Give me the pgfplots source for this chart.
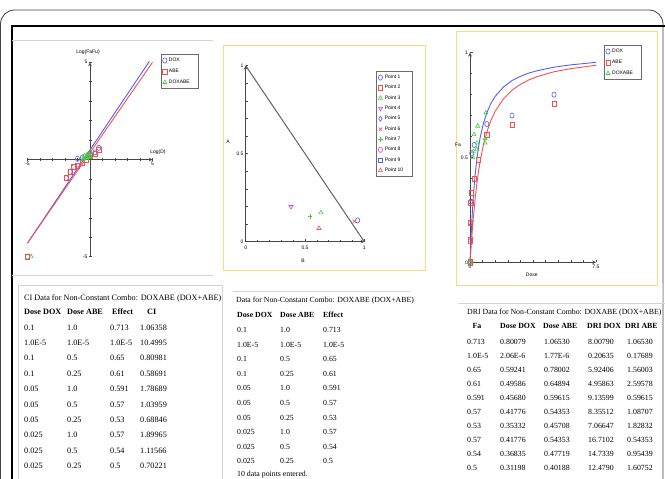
\documentclass[border=0pt]{standalone}
\usepackage{pgfplots}
\pgfplotsset{compat=1.18}
\usepackage{fontspec}
\setmainfont{Liberation Serif}
\setsansfont{Liberation Sans}
\definecolor{cblue}{RGB}{90,90,250}
\definecolor{cred}{RGB}{245,80,80}
\definecolor{cgreen}{RGB}{60,210,60}
\definecolor{cmag}{RGB}{220,60,220}
\definecolor{pyellow}{RGB}{248,218,130}
\definecolor{axgray}{RGB}{70,70,70}
\definecolor{lgray}{RGB}{212,212,212}
\newcommand\tfa{\fontsize{8.2}{10}\selectfont}
\newcommand\tfb{\fontsize{7.8}{10}\selectfont}
\newcommand\tfc{\fontsize{7.85}{10}\selectfont}
\pgfplotsset{
  panel/.style={scale only axis, clip=false,
    tick label style={font=\sffamily\fontsize{5}{6}\selectfont, inner sep=1pt},
    axis line style={-, axgray, line width=0.7pt},
    tick style={axgray, line width=0.5pt},
    legend style={font=\sffamily\fontsize{5}{6}\selectfont, draw=axgray!80, line width=1pt,
      inner sep=1.5pt, row sep=2pt, cells={anchor=west}, fill=white},
  },
}
\begin{document}
\begin{tikzpicture}[ta/.style={anchor=base west, inner sep=0pt, font=\tfa},
  tb/.style={anchor=base west, inner sep=0pt, font=\tfb},
  tc/.style={anchor=base west, inner sep=0pt, font=\tfc}]
\path[use as bounding box] (0,0) rectangle (665pt,-479pt);
\begin{scope}
\clip (0,0) rectangle (665pt,-479pt);
\draw[line width=0.8pt, draw=black!75, rounded corners=14pt] (0.5pt,-10pt) rectangle (663pt,-520pt);
\draw[line width=1.2pt] (12pt,-500pt) -- (12pt,-26pt) -- (670pt,-26pt);
\draw[lgray, line width=0.6pt] (18pt,-490pt) -- (18pt,-285pt) -- (222pt,-285pt) -- (222pt,-490pt);
\end{scope}
\draw[lgray, line width=0.8pt] (12pt,-40pt) -- (213pt,-40pt);
\draw[lgray, line width=0.8pt] (12pt,-275pt) -- (213pt,-275pt);
\draw[pyellow, line width=1pt] (223pt,-45pt) rectangle (425pt,-270pt);
\draw[pyellow, line width=1pt] (456pt,-31pt) rectangle (657pt,-285pt);
\draw[lgray, line width=0.6pt] (233pt,-291pt) -- (410pt,-291pt);
\draw[lgray, line width=0.6pt] (458pt,-303pt) -- (665pt,-303pt);
\draw[lgray, line width=0.6pt] (662pt,-283pt) -- (662pt,-303pt);

% ---------------- Panel 1: median-effect plot
\begin{axis}[panel,
  at={(27.5pt,-256.7pt)}, anchor=south west, width=125pt, height=194.4pt,
  xmin=-5, xmax=5, ymin=-5, ymax=5, axis lines=middle,
  xtick={-5,5}, xticklabels={-5,5}, ytick={-5,5}, yticklabels={-5,5},
  minor xtick={-4,-3,-2,-1,1,2,3,4}, minor ytick={-4,-3,-2,-1,1,2,3,4},
  tick align=center, major tick length=3pt, minor tick length=3pt,
  every axis x label/.style={at={(axis cs:5.44,0)}, anchor=south, yshift=5pt, inner sep=0pt, font=\sffamily\fontsize{5}{6}\selectfont},
  every axis y label/.style={at={(axis cs:0,5)}, anchor=south, yshift=8pt, xshift=-2pt, inner sep=0pt, font=\sffamily\fontsize{5}{6}\selectfont},
  xlabel={Log(D)}, ylabel={Log(FaFu)},
  legend style={at={(1.066,1.043)}, anchor=north west},
]
\addplot[cblue, line width=0.9pt, forget plot] coordinates {(-5,-4.3) (4.75,5.05)};
\addplot[cred, line width=0.9pt, forget plot] coordinates {(-5,-4.3) (5,5.0)};
\addplot[only marks, mark=o, cblue, line width=0.6pt, mark size=2.1pt, mark options={yscale=1.25}] coordinates {
(-5,-5) (-1.903,-0.954) (-1.602,-0.630) (-1.301,-0.389) (-1,0.035) (-0.602,0.105) (0,0.288) (0.398,0.368) (0.699,0.602)};
\addlegendentry{\makebox[26pt][l]{DOX}}
\addplot[only marks, mark=square, cred, line width=0.6pt, mark size=2.1pt, mark options={yscale=1.2}] coordinates {
(-5,-5) (-1.903,-0.931) (-1.602,-0.630) (-1.301,-0.399) (-1,-0.308) (-0.602,-0.176) (-0.301,-0.017) (0,0.194) (0.398,0.278) (0.699,0.489)};
\addlegendentry{\makebox[26pt][l]{ABE}}
\addplot[only marks, mark=triangle, cgreen, line width=0.6pt, mark size=2.3pt] coordinates {
(0.041,0.395) (-0.222,0.269) (-0.456,0.194) (0.021,0.160) (-0.260,0.122) (-0.523,0.052) (0.011,0.122) (-0.280,0.070) (-0.561,0.0) (-4.7,-5.0)};
\addlegendentry{\makebox[26pt][l]{DOXABE}}
\end{axis}

% ---------------- Panel 2: normalized isobologram
\begin{axis}[panel, clip=true,
  at={(245.7pt,-241.7pt)}, anchor=south west, width=118.6pt, height=176pt,
  xmin=0, xmax=1, ymin=0, ymax=1, axis lines=left,
  xtick={0,0.5,1}, xticklabels={0,0.5,1}, ytick={0,0.5,1}, yticklabels={0,0.5,1},
  minor xtick={0.1,0.2,0.3,0.4,0.6,0.7,0.8,0.9}, minor ytick={0.1,0.2,0.3,0.4,0.6,0.7,0.8,0.9},
  tick align=inside, major tick length=2.5pt, minor tick length=2pt,
  xticklabel style={yshift=-3pt}, yticklabel style={xshift=-1pt},
  every axis x label/.style={at={(axis description cs:0.483,0)}, anchor=center, yshift=-19.3pt, font=\sffamily\fontsize{5}{6}\selectfont},
  every axis y label/.style={at={(axis description cs:0,0.566)}, anchor=center, xshift=-17.7pt, font=\sffamily\fontsize{5}{6}\selectfont},
  xlabel={B}, ylabel={A},
  legend style={at={(1.099,0.97)}, anchor=north west, row sep=1.2pt},
]
\addplot[axgray!85, line width=1pt, forget plot] coordinates {(0,1) (1,0)};
\addplot[only marks, mark=o, cblue, line width=0.6pt, mark size=2.1pt, mark options={yscale=1.25}] coordinates {(0.944,0.121)};
\addlegendentry{\makebox[24pt][l]{Point 1}}
\addplot[only marks, mark=square, cred, line width=0.6pt, mark size=2.1pt] coordinates {(1.6,1.6)};
\addlegendentry{\makebox[24pt][l]{Point 2}}
\addplot[only marks, mark=triangle, cgreen, line width=0.6pt, mark size=2.4pt] coordinates {(0.635,0.165)};
\addlegendentry{\makebox[24pt][l]{Point 3}}
\addplot[only marks, mark=triangle, cmag, line width=0.6pt, mark size=2.4pt, mark options={rotate=180}] coordinates {(0.382,0.199)};
\addlegendentry{\makebox[24pt][l]{Point 4}}
\addplot[only marks, mark=diamond, cblue, line width=0.6pt, mark size=2.4pt] coordinates {(1.6,1.6)};
\addlegendentry{\makebox[24pt][l]{Point 5}}
\addplot[only marks, mark=x, cred, line width=0.6pt, mark size=2.4pt] coordinates {(0.916,0.117)};
\addlegendentry{\makebox[24pt][l]{Point 6}}
\addplot[only marks, mark=+, cgreen, line width=0.8pt, mark size=2.4pt] coordinates {(0.542,0.142)};
\addlegendentry{\makebox[24pt][l]{Point 7}}
\addplot[only marks, mark=o, cmag, line width=0.6pt, mark size=2.1pt, mark options={yscale=1.25}] coordinates {(1.6,1.6)};
\addlegendentry{\makebox[24pt][l]{Point 8}}
\addplot[only marks, mark=square, cblue, line width=0.6pt, mark size=2.1pt] coordinates {(1.6,1.6)};
\addlegendentry{\makebox[24pt][l]{Point 9}}
\addplot[only marks, mark=triangle, cred, line width=0.6pt, mark size=2.4pt] coordinates {(0.618,0.076)};
\addlegendentry{\makebox[24pt][l]{Point 10}}
\end{axis}

% ---------------- Panel 3: dose-effect curve
\begin{axis}[panel,
  at={(470pt,-262.3pt)}, anchor=south west, width=126pt, height=209.6pt,
  xmin=0, xmax=7.5, ymin=0, ymax=1, axis lines=left,
  xtick={0,7.5}, xticklabels={0,7.5}, ytick={0,0.5,1}, yticklabels={0,0.5,1},
  minor xtick={0.75,1.5,2.25,3,3.75,4.5,5.25,6,6.75}, minor ytick={0.1,0.2,0.3,0.4,0.6,0.7,0.8,0.9},
  tick align=inside, major tick length=2.5pt, minor tick length=2pt,
  xticklabel style={yshift=-2pt}, yticklabel style={xshift=-1pt},
  every axis x label/.style={at={(axis description cs:0.49,0)}, anchor=center, yshift=-12.7pt, font=\sffamily\fontsize{5}{6}\selectfont},
  every axis y label/.style={at={(axis description cs:0,0.56)}, anchor=center, xshift=-12pt, font=\sffamily\fontsize{5}{6}\selectfont},
  xlabel={Dose}, ylabel={Fa},
  legend style={at={(1.063,1.037)}, anchor=north west},
]
\addplot[cblue, line width=0.9pt, forget plot] coordinates {
(0,0) (0.01,0.0194) (0.02,0.0392) (0.05,0.0967) (0.1,0.181) (0.15,0.253) (0.2,0.315) (0.3,0.413) (0.4,0.487) (0.5,0.546) (0.6,0.593) (0.8,0.663) (1,0.713) (1.25,0.759) (1.5,0.792) (2,0.837) (2.5,0.867) (3,0.887) (3.5,0.903) (4,0.914) (5,0.931) (6,0.942) (7.5,0.954)};
\addplot[cred, line width=0.9pt, forget plot] coordinates {
(0,0) (0.01,0.0093) (0.02,0.0201) (0.05,0.0541) (0.1,0.111) (0.15,0.164) (0.2,0.213) (0.3,0.299) (0.4,0.370) (0.5,0.430) (0.6,0.481) (0.8,0.561) (1,0.621) (1.25,0.678) (1.5,0.721) (2,0.781) (2.5,0.821) (3,0.849) (3.5,0.870) (4,0.886) (5,0.909) (6,0.924) (7.5,0.940)};
\addplot[only marks, mark=o, cblue, line width=0.6pt, mark size=2.1pt, mark options={yscale=1.25}] coordinates {
(0,0) (0.0125,0.10) (0.025,0.19) (0.05,0.29) (0.1,0.52) (0.25,0.56) (1,0.66) (2.5,0.70) (5,0.80)};
\addlegendentry{\makebox[26pt][l]{DOX}}
\addplot[only marks, mark=square, cred, line width=0.6pt, mark size=2.1pt, mark options={yscale=1.2}] coordinates {
(0,0) (0.0125,0.105) (0.025,0.19) (0.05,0.285) (0.1,0.33) (0.25,0.40) (0.5,0.49) (1,0.61) (2.5,0.655) (5,0.755)};
\addlegendentry{\makebox[26pt][l]{ABE}}
\addplot[only marks, mark=triangle, cgreen, line width=0.6pt, mark size=2.3pt] coordinates {
(0.95,0.713) (0.46,0.65) (0.24,0.61) (0.9,0.591) (0.42,0.57) (0.2,0.53) (0.9,0.57) (0.4,0.54) (0.16,0.5) (0,0)};
\addlegendentry{\makebox[26pt][l]{DOXABE}}
\end{axis}

% ---------------- Table 1
\node[ta] at (24pt,-300pt) {CI Data for Non-Constant Combo: DOXABE (DOX+ABE)};
\node[ta, font=\tfa\bfseries] at (24pt,-314pt) {Dose DOX};
\node[ta, font=\tfa\bfseries] at (67pt,-314pt) {Dose ABE};
\node[ta, font=\tfa\bfseries] at (112pt,-314pt) {Effect};
\node[ta, font=\tfa\bfseries] at (147pt,-314pt) {CI};
\foreach \a/\b/\c/\d [count=\i from 0] in {0.1/1.0/0.713/1.06358, 1.0E-5/1.0E-5/1.0E-5/10.4995, 0.1/0.5/0.65/0.80981, 0.1/0.25/0.61/0.58691, 0.05/1.0/0.591/1.78689, 0.05/0.5/0.57/1.03959, 0.05/0.25/0.53/0.68846, 0.025/1.0/0.57/1.89965, 0.025/0.5/0.54/1.11566, 0.025/0.25/0.5/0.70221}{
  \node[ta] at (24pt,{-330pt-\i*15.4pt}) {\a};
  \node[ta] at (67pt,{-330pt-\i*15.4pt}) {\b};
  \node[ta] at (110pt,{-330pt-\i*15.4pt}) {\c};
  \node[ta] at (140pt,{-330pt-\i*15.4pt}) {\d};
}

% ---------------- Table 2
\node[tb] at (236pt,-302pt) {Data for Non-Constant Combo: DOXABE (DOX+ABE)};
\node[tb, font=\tfb\bfseries] at (237pt,-317pt) {Dose DOX};
\node[tb, font=\tfb\bfseries] at (280pt,-317pt) {Dose ABE};
\node[tb, font=\tfb\bfseries] at (323pt,-317pt) {Effect};
\foreach \a/\b/\c [count=\i from 0] in {0.1/1.0/0.713, 1.0E-5/1.0E-5/1.0E-5, 0.1/0.5/0.65, 0.1/0.25/0.61, 0.05/1.0/0.591, 0.05/0.5/0.57, 0.05/0.25/0.53, 0.025/1.0/0.57, 0.025/0.5/0.54, 0.025/0.25/0.5}{
  \node[tb] at (237pt,{-332.5pt-\i*14.6pt}) {\a};
  \node[tb] at (280pt,{-332.5pt-\i*14.6pt}) {\b};
  \node[tb] at (323pt,{-332.5pt-\i*14.6pt}) {\c};
}
\node[tb] at (237pt,-476.5pt) {10 data points entered.};

% ---------------- Table 3
\node[tc] at (467pt,-314pt) {DRI Data for Non-Constant Combo: DOXABE (DOX+ABE)};
\node[anchor=base, inner sep=0pt, font=\tfc\bfseries] at (477pt,-328.5pt) {Fa};
\node[tc, font=\tfc\bfseries] at (500pt,-328.5pt) {Dose DOX};
\node[tc, font=\tfc\bfseries] at (543pt,-328.5pt) {Dose ABE};
\node[tc, font=\tfc\bfseries] at (587pt,-328.5pt) {DRI DOX};
\node[tc, font=\tfc\bfseries] at (625pt,-328.5pt) {DRI ABE};
\foreach \a/\b/\c/\d/\e [count=\i from 0] in {0.713/0.80079/1.06530/8.00790/1.06530, 1.0E-5/2.06E-6/1.77E-6/0.20635/0.17689, 0.65/0.59241/0.78002/5.92406/1.56003, 0.61/0.49586/0.64894/4.95863/2.59578, 0.591/0.45680/0.59615/9.13599/0.59615, 0.57/0.41776/0.54353/8.35512/1.08707, 0.53/0.35332/0.45708/7.06647/1.82832, 0.57/0.41776/0.54353/16.7102/0.54353, 0.54/0.36835/0.47719/14.7339/0.95439, 0.5/0.31198/0.40188/12.4790/1.60752}{
  \node[tc] at (467pt,{-344pt-\i*14.1pt}) {\a};
  \node[tc] at (500pt,{-344pt-\i*14.1pt}) {\b};
  \node[tc] at (544pt,{-344pt-\i*14.1pt}) {\c};
  \node[tc] at (588pt,{-344pt-\i*14.1pt}) {\d};
  \node[tc] at (627pt,{-344pt-\i*14.1pt}) {\e};
}
\end{tikzpicture}
\end{document}
